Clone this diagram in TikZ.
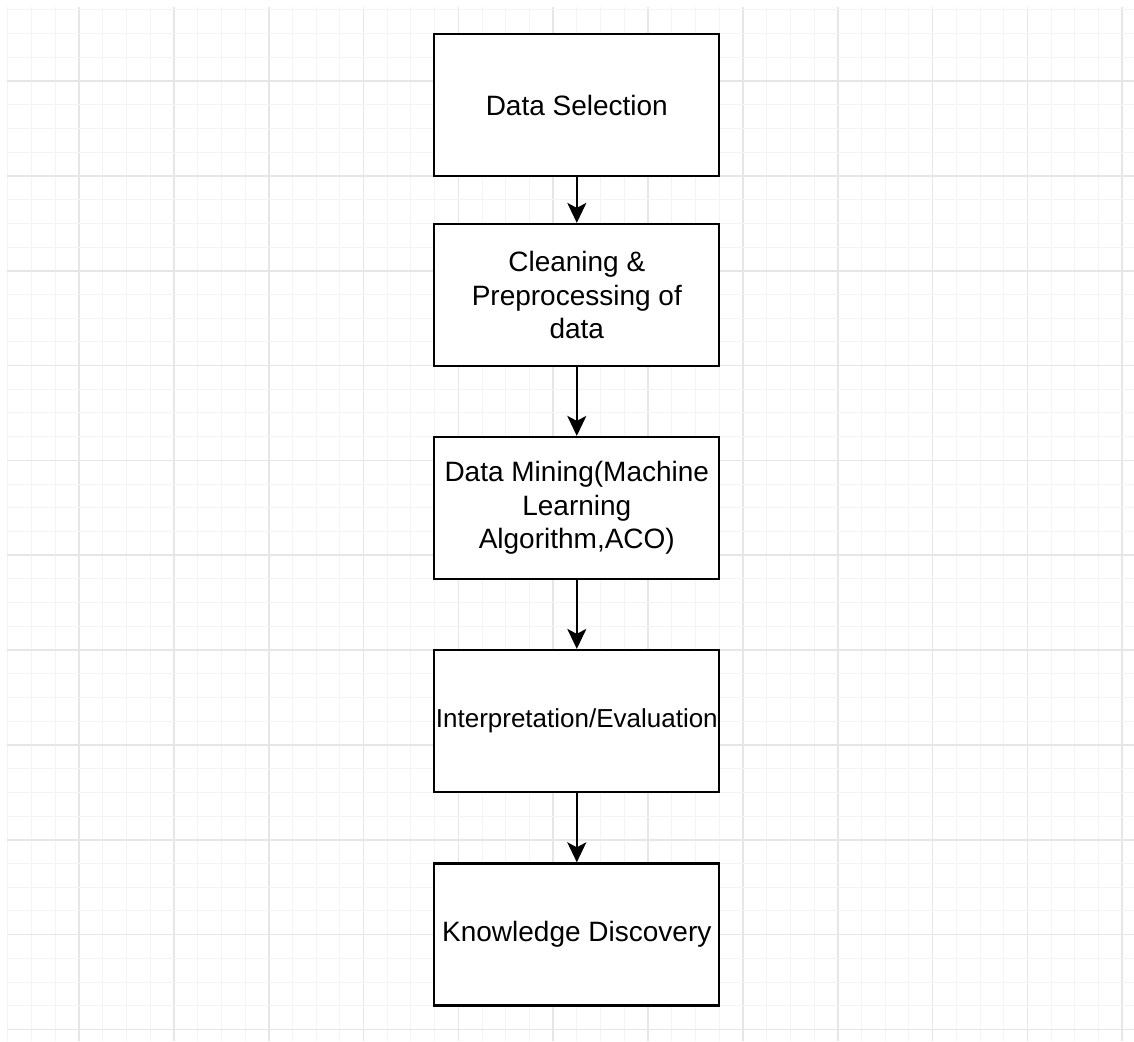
\documentclass[tikz,border=0pt]{standalone}
\usepackage{fontspec}
\setmainfont{Liberation Sans}
\usetikzlibrary{arrows.meta}
\definecolor{gridminor}{HTML}{F4F4F4}
\definecolor{gridmajor}{HTML}{E6E6E6}
\begin{document}
\begin{tikzpicture}[x=1pt,y=-1pt,
  box/.style={draw=black, line width=2.2pt, fill=white, minimum width=285pt, minimum height=142pt, align=center, inner sep=0pt, font=\fontsize{28}{33.4}\selectfont},
  flow/.style={line width=2.2pt, -{Stealth[length=20pt,width=19pt,inset=5pt]}},
  minorline/.style={draw=gridminor, line width=1pt},
  majorline/.style={draw=gridmajor, line width=1.6pt}]
\useasboundingbox (0,0) rectangle (1134,1041);
\fill[white] (0,0) rectangle (1134,1041);
% grid
\foreach \i in {0,...,47} {
  \pgfmathsetmacro\xx{7.9+23.71*\i}
  \pgfmathtruncatemacro\m{mod(\i,4)}
  \ifnum\m=3\relax
    \draw[majorline] (\xx,7) -- (\xx,1041);
  \else
    \draw[minorline] (\xx,7) -- (\xx,1041);
  \fi
}
\foreach \j in {0,...,43} {
  \pgfmathsetmacro\yy{9.9+23.71*\j}
  \pgfmathtruncatemacro\m{mod(\j,4)}
  \ifnum\m=3\relax
    \draw[majorline] (7,\yy) -- (1134,\yy);
  \else
    \draw[minorline] (7,\yy) -- (1134,\yy);
  \fi
}
% boxes
\node[box] (sel) at (576.8,105) {Data Selection};
\node[box] (clean) at (576.8,295) {Cleaning \&\\Preprocessing of\\data};
\node[box] (mine) at (576.8,508) {Data Mining(Machine\\Learning\\Algorithm,ACO)};
\node[box, font=\fontsize{26}{31}\selectfont] (interp) at (576.8,721) {Interpretation/Evaluation};
\node[box] (know) at (576.8,934.4) {Knowledge Discovery};
% connectors
\draw[flow] (sel) -- (clean);
\draw[flow] (clean) -- (mine);
\draw[flow] (mine) -- (interp);
\draw[flow] (interp) -- (know);
\end{tikzpicture}
\end{document}
